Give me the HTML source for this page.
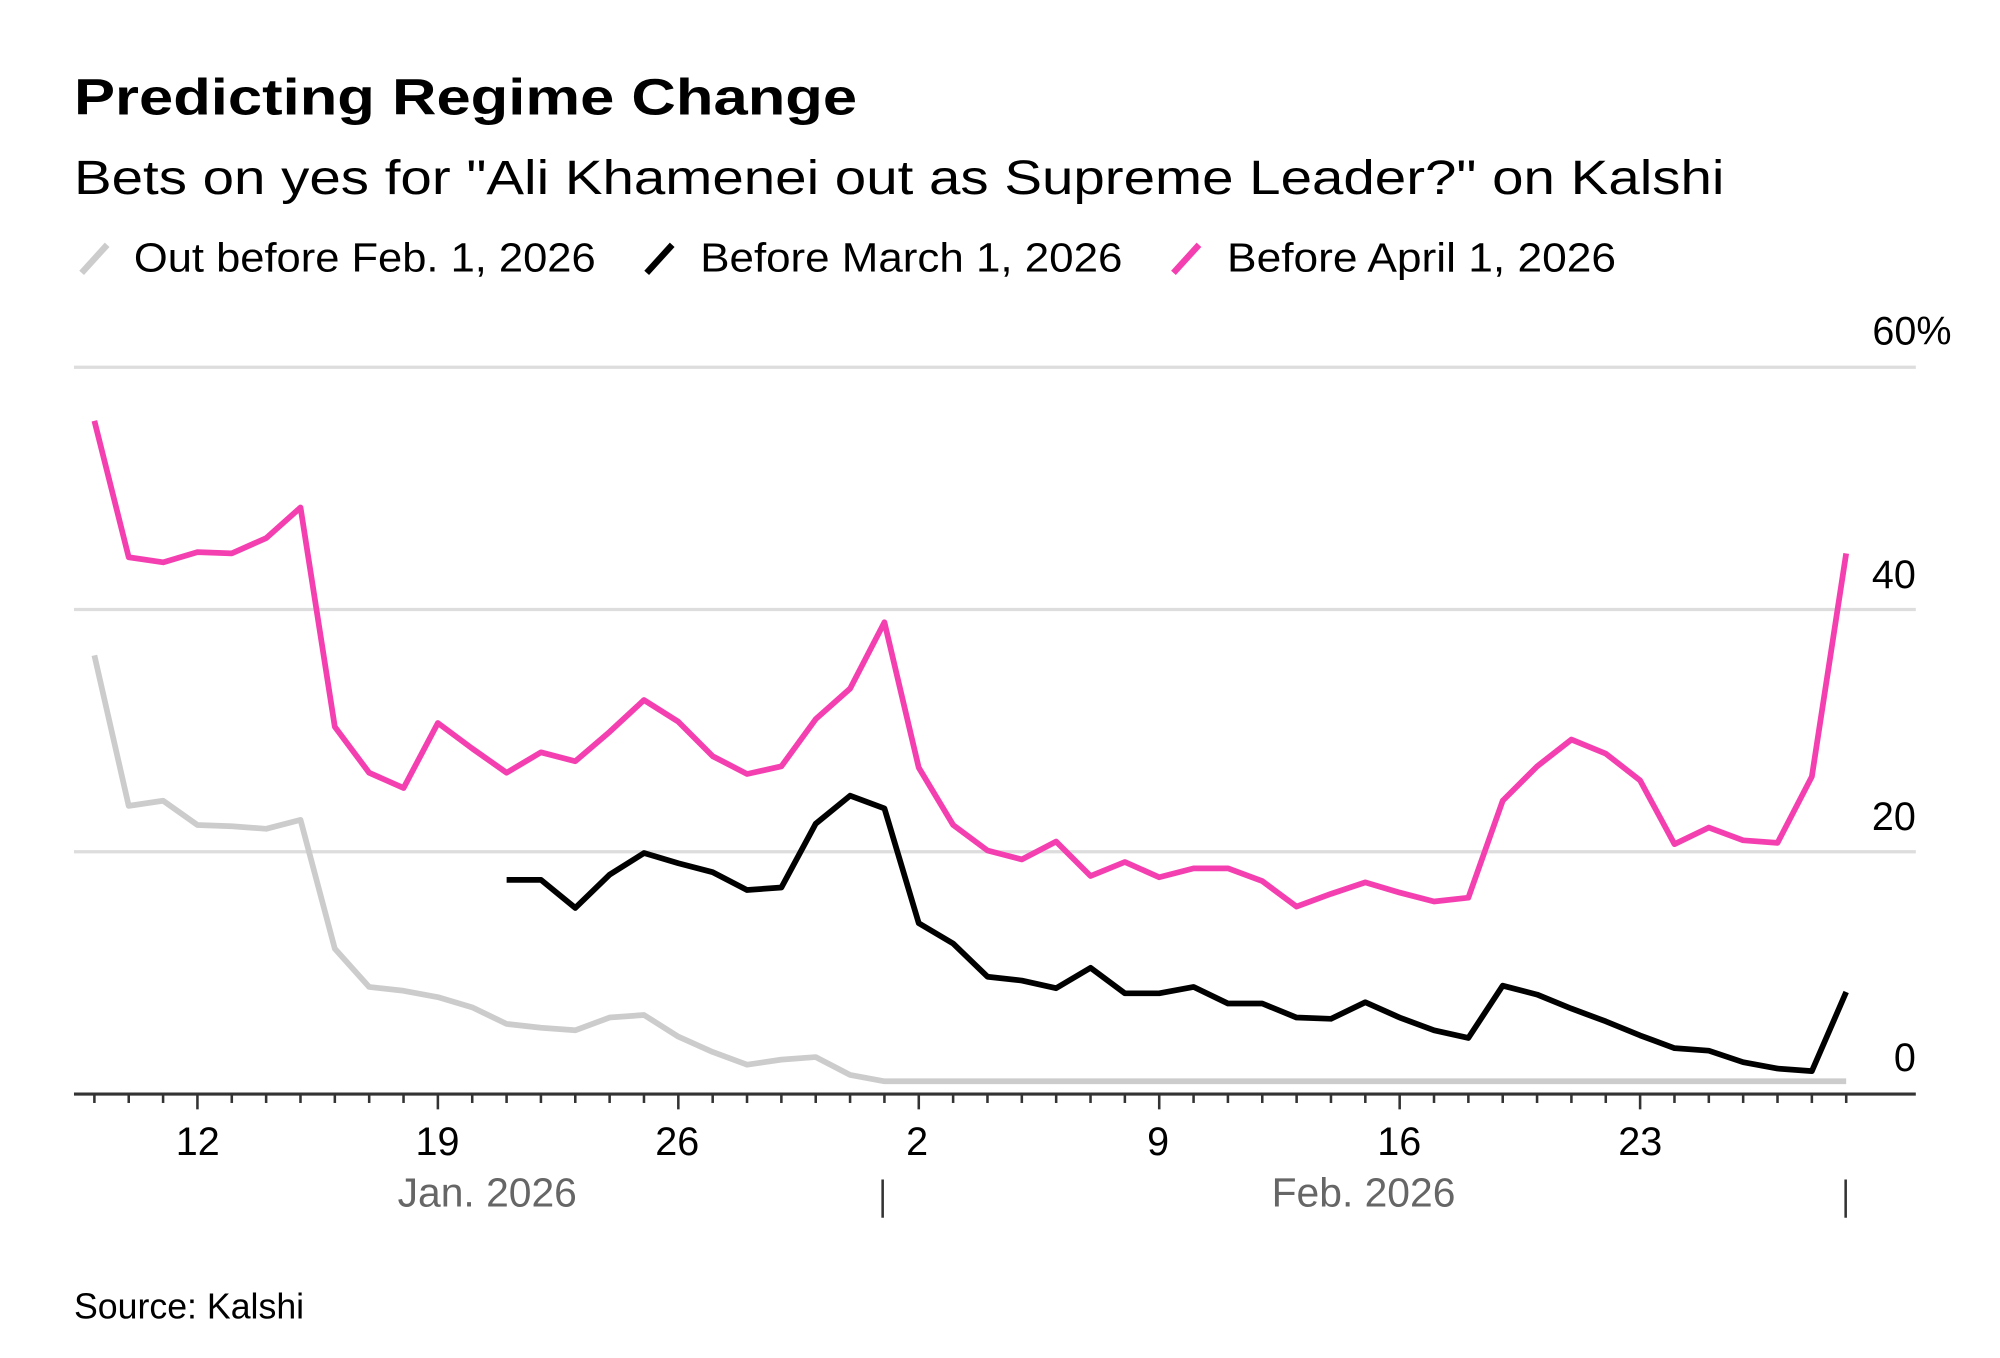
<!DOCTYPE html>
<html><head><meta charset="utf-8"><style>
html,body{margin:0;padding:0;background:#fff;}
svg{display:block;}
text{font-family:"Liberation Sans",sans-serif;}
</style></head><body>
<svg width="2000" height="1358" viewBox="0 0 1568 1065" preserveAspectRatio="none" xmlns="http://www.w3.org/2000/svg">
<rect width="1568" height="1065" fill="#fff"/>
<text x="58" y="90" font-size="40" font-weight="bold" fill="#000" textLength="614" lengthAdjust="spacingAndGlyphs">Predicting Regime Change</text>
<text x="58" y="152" font-size="38" fill="#000" textLength="1294" lengthAdjust="spacingAndGlyphs">Bets on yes for "Ali Khamenei out as Supreme Leader?" on Kalshi</text>
<line x1="64" y1="214" x2="84" y2="192" stroke="#ccc" stroke-width="5"/>
<text x="105" y="213" font-size="32" fill="#000" textLength="362" lengthAdjust="spacingAndGlyphs">Out before Feb. 1, 2026</text>
<line x1="507" y1="214" x2="527" y2="192" stroke="#000" stroke-width="5"/>
<text x="549" y="213" font-size="32" fill="#000" textLength="331" lengthAdjust="spacingAndGlyphs">Before March 1, 2026</text>
<line x1="920" y1="214" x2="940" y2="192" stroke="#f43fb0" stroke-width="5"/>
<text x="962" y="213" font-size="32" fill="#000" textLength="305" lengthAdjust="spacingAndGlyphs">Before April 1, 2026</text>
<g stroke="#ddd" stroke-width="2.5">
<line x1="58" y1="288" x2="1502" y2="288"/>
<line x1="58" y1="478" x2="1502" y2="478"/>
<line x1="58" y1="668" x2="1502" y2="668"/>
</g>
<g font-size="31" fill="#000" text-anchor="end">
<text x="1530" y="270">60%</text>
<text x="1502" y="461">40</text>
<text x="1502" y="651">20</text>
<text x="1502" y="840">0</text>
</g>
<g fill="none" stroke-linejoin="round" stroke-width="4.5">
<polyline id="gray" stroke="#cccccc" points=""/>
<polyline id="black" stroke="#000" points=""/>
<polyline id="pink" stroke="#f43fb0" points=""/>
</g>
<line x1="58" y1="858" x2="1502" y2="858" stroke="#333" stroke-width="2.5"/>
<g id="ticks" stroke="#333" stroke-width="2"></g>
<g font-size="31" fill="#000" text-anchor="middle">
<text x="155" y="906">12</text>
<text x="343" y="906">19</text>
<text x="531" y="906">26</text>
<text x="719" y="906">2</text>
<text x="908" y="906">9</text>
<text x="1097" y="906">16</text>
<text x="1286" y="906">23</text>
</g>
<g font-size="32" fill="#666" text-anchor="middle">
<text x="382" y="946">Jan. 2026</text>
<text x="1069" y="946">Feb. 2026</text>
</g>
<line x1="692" y1="925" x2="692" y2="955" stroke="#333" stroke-width="2"/>
<line x1="1447" y1="925" x2="1447" y2="955" stroke="#333" stroke-width="2"/>
<text x="58" y="1034" font-size="28" fill="#000">Source: Kalshi</text>
</svg>
<script>
var X=function(i){return 74+i*26.93;};
var pink=[330,437,441,433,434,422,398,570,606,618,567,587,606,590,597,574,549,566,593,607,601,564,540,488,602,647,667,674,660,687,676,688,681,681,691,711,701,692,700,707,704,628,601,580,591,612,662,649,659,661,609,434];
var black=[690,690,712,686,669,677,684,698,696,646,624,634,724,740,766,769,775,759,779,779,774,787,787,798,799,786,798,808,814,773,780,791,801,812,822,824,833,838,840,778];
var gray=[514,632,628,647,648,650,643,744,774,777,782,790,803,806,808,798,796,813,825,835,831,829,843,848];
while(gray.length<52)gray.push(848);
function pts(a,off){return a.map(function(v,i){return X(i+off).toFixed(1)+','+v;}).join(' ');}
document.getElementById('pink').setAttribute('points',pts(pink,0));
document.getElementById('black').setAttribute('points',pts(black,12));
document.getElementById('gray').setAttribute('points',pts(gray,0));
var t=document.getElementById('ticks'),s='';
for(var i=0;i<52;i++){var x=X(i);var major=((i-3)%7===0);s+='<line x1="'+x+'" y1="858" x2="'+x+'" y2="'+(major?870:865)+'"/>';}
t.innerHTML=s;
</script>
</body></html>
